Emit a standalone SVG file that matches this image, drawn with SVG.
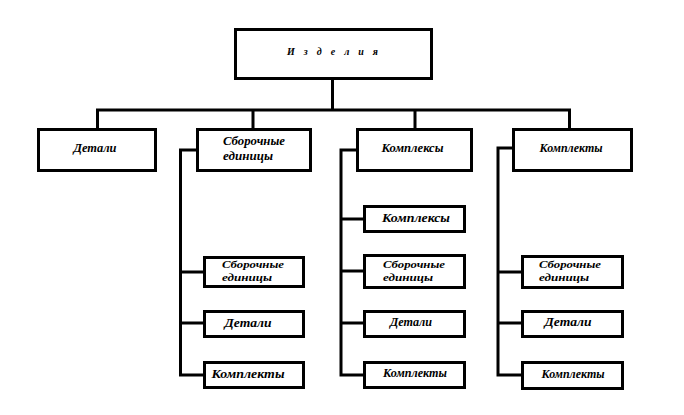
<svg xmlns="http://www.w3.org/2000/svg" width="684" height="415" viewBox="0 0 684 415">
<style>
.box{fill:#fff;stroke:#000;stroke-width:3}
.ln{fill:none;stroke:#000;stroke-width:3;stroke-linejoin:miter;stroke-linecap:square}
text{font-family:"Liberation Serif","DejaVu Serif","Times New Roman",serif;font-weight:bold;font-style:italic;font-size:12px;fill:#000}
.c{text-anchor:middle}
.t{font-size:10px}
.s{font-size:11px}
</style>
<rect width="684" height="415" fill="#fff"/>
<g id="connectors">
<path class="ln" d="M332.5,80 V110 M97.5,110 H569.5 M97.5,110 V128 M253,110 V128 M415,110 V128 M569.5,110 V128"/>
<path class="ln" d="M196,150 H180.5 V375 H203 M180.5,272 H203 M180.5,323 H203"/>
<path class="ln" d="M356,150 H341 V375 H363 M341,219 H363 M341,271 H363 M341,323 H363"/>
<path class="ln" d="M512,148 H498 V375 H521 M498,272 H521 M498,323 H521"/>
</g>
<g id="n-izdeliya"><rect class="box" x="235.5" y="29.5" width="196" height="49"/><text class="t" x="287" y="55" textLength="91" lengthAdjust="spacing">И з д е л и я</text></g>
<g id="n-detali"><rect class="box" x="38.5" y="129.5" width="117" height="41"/><text class="c" x="95" y="152" textLength="43" lengthAdjust="spacingAndGlyphs">Детали</text></g>
<g id="n-sborochnye"><rect class="box" x="197.5" y="129.5" width="113" height="41"/><text x="223" y="145" textLength="62" lengthAdjust="spacingAndGlyphs">Сборочные</text><text x="223" y="160" textLength="50" lengthAdjust="spacingAndGlyphs">единицы</text></g>
<g id="n-kompleksy"><rect class="box" x="357.5" y="129.5" width="114" height="41"/><text class="c" x="412.5" y="152" textLength="62" lengthAdjust="spacingAndGlyphs">Комплексы</text></g>
<g id="n-komplekty"><rect class="box" x="513.5" y="129.5" width="118" height="41"/><text class="c" x="571" y="152" textLength="63" lengthAdjust="spacingAndGlyphs">Комплекты</text></g>

<g id="n-c2-sborochnye"><rect class="box" x="204.5" y="257.5" width="99" height="29"/><text class="s" x="222" y="268" textLength="62" lengthAdjust="spacingAndGlyphs">Сборочные</text><text class="s" x="222" y="281" textLength="50" lengthAdjust="spacingAndGlyphs">единицы</text></g>
<g id="n-c2-detali"><rect class="box" x="204.5" y="311.5" width="99" height="25"/><text class="c" x="248" y="327" textLength="47" lengthAdjust="spacingAndGlyphs">Детали</text></g>
<g id="n-c2-komplekty"><rect class="box" x="204.5" y="362.5" width="99" height="25"/><text class="c" x="248" y="378" textLength="73" lengthAdjust="spacingAndGlyphs">Комплекты</text></g>

<g id="n-c3-kompleksy"><rect class="box" x="364.5" y="206.5" width="100" height="25"/><text class="c" x="416" y="222" textLength="68" lengthAdjust="spacingAndGlyphs">Комплексы</text></g>
<g id="n-c3-sborochnye"><rect class="box" x="364.5" y="255.5" width="100" height="32"/><text class="s" x="383" y="268" textLength="62" lengthAdjust="spacingAndGlyphs">Сборочные</text><text class="s" x="383" y="281" textLength="50" lengthAdjust="spacingAndGlyphs">единицы</text></g>
<g id="n-c3-detali"><rect class="box" x="364.5" y="311.5" width="100" height="25"/><text class="c" x="411" y="326" textLength="42" lengthAdjust="spacingAndGlyphs">Детали</text></g>
<g id="n-c3-komplekty"><rect class="box" x="364.5" y="362.5" width="100" height="25"/><text class="c" x="415" y="377" textLength="64" lengthAdjust="spacingAndGlyphs">Комплекты</text></g>

<g id="n-c4-sborochnye"><rect class="box" x="522.5" y="256.5" width="100" height="31"/><text class="s" x="539" y="268" textLength="62" lengthAdjust="spacingAndGlyphs">Сборочные</text><text class="s" x="539" y="281" textLength="50" lengthAdjust="spacingAndGlyphs">единицы</text></g>
<g id="n-c4-detali"><rect class="box" x="522.5" y="311.5" width="100" height="25"/><text class="c" x="568" y="326" textLength="47" lengthAdjust="spacingAndGlyphs">Детали</text></g>
<g id="n-c4-komplekty"><rect class="box" x="522.5" y="362.5" width="100" height="26"/><text class="c" x="573" y="378" textLength="63" lengthAdjust="spacingAndGlyphs">Комплекты</text></g>
</svg>
